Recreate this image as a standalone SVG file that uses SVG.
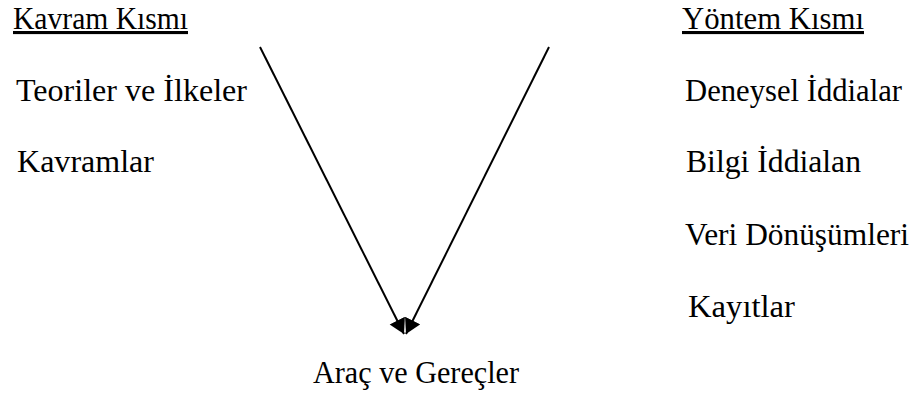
<svg xmlns="http://www.w3.org/2000/svg" width="917" height="396" viewBox="0 0 917 396">
<style>
.t{font-family:'Liberation Serif','Times New Roman',Times,serif;font-size:31px;fill:#000}
.u{text-decoration:underline}
.c{stroke:#000;stroke-width:2;fill:none}
</style>
<defs>
<marker id="ah" markerUnits="userSpaceOnUse" markerWidth="16" markerHeight="18" refX="15" refY="8.5" orient="auto">
<path d="M0,0 L15,8.5 L0,17 z" fill="#000"/>
</marker>
</defs>
<rect width="917" height="396" fill="#fff"/>
<g id="connectors">
<line class="c" x1="260" y1="47" x2="404" y2="334" marker-end="url(#ah)"/>
<line class="c" x1="549" y1="47" x2="406" y2="334" marker-end="url(#ah)"/>
</g>
<g id="kavram-kismi"><text class="t u" x="13" y="29" textLength="175" lengthAdjust="spacingAndGlyphs">Kavram Kısmı</text></g>
<g id="teoriler"><text class="t" x="16" y="101" textLength="231" lengthAdjust="spacingAndGlyphs">Teoriler ve İlkeler</text></g>
<g id="kavramlar"><text class="t" x="17" y="172" textLength="137" lengthAdjust="spacingAndGlyphs">Kavramlar</text></g>
<g id="yontem-kismi"><text class="t u" x="682" y="29" textLength="182" lengthAdjust="spacingAndGlyphs">Yöntem Kısmı</text></g>
<g id="deneysel"><text class="t" x="685" y="101" textLength="217" lengthAdjust="spacingAndGlyphs">Deneysel İddialar</text></g>
<g id="bilgi"><text class="t" x="686" y="172" textLength="175" lengthAdjust="spacingAndGlyphs">Bilgi İddialan</text></g>
<g id="veri"><text class="t" x="685" y="245" textLength="224" lengthAdjust="spacingAndGlyphs">Veri Dönüşümleri</text></g>
<g id="kayitlar"><text class="t" x="688" y="317" textLength="107" lengthAdjust="spacingAndGlyphs">Kayıtlar</text></g>
<g id="arac"><text class="t" x="313" y="383" textLength="206" lengthAdjust="spacingAndGlyphs">Araç ve Gereçler</text></g>
</svg>
